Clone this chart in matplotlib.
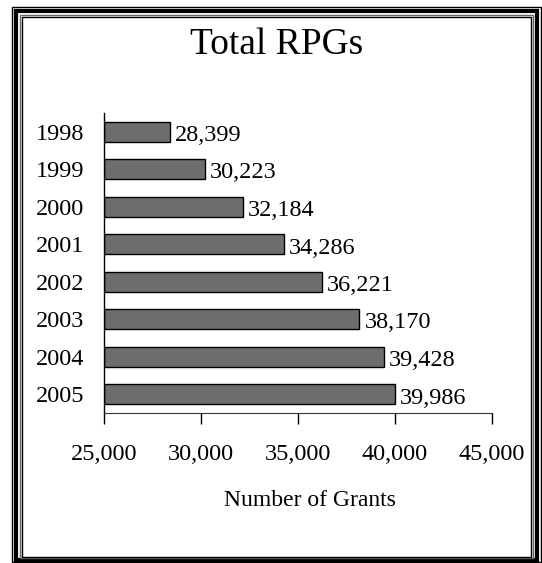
import matplotlib.pyplot as plt
from matplotlib.patches import Rectangle

years = ['1998', '1999', '2000', '2001', '2002', '2003', '2004', '2005']
grants = [28399, 30223, 32184, 34286, 36221, 38170, 39428, 39986]
x_ticks = [25000, 30000, 35000, 40000, 45000]

plt.rcParams['font.family'] = ['Liberation Serif', 'DejaVu Serif']

W, H = 542, 563
fig = plt.figure(figsize=(W / 100, H / 100), dpi=100)
ax = fig.add_axes([104 / W, 1 - 413 / H, 388 / W, 300 / H])

pos = list(range(len(years)))
ax.barh(pos, [g - 25000 for g in grants], left=25000, height=0.53,
        color='#6e6e6e', edgecolor='black', linewidth=1.0)
for p, g in zip(pos, grants):
    ax.text(g + 250, p + 0.1, f'{g:,}', va='center', ha='left', fontsize=17.5)

ax.set_xlim(25000, 45000)
ax.set_ylim(len(years) - 0.5, -0.5)
ax.set_yticks(pos)
ax.set_yticklabels(years, fontsize=17.5)
ax.tick_params(axis='y', length=0, pad=14)
ax.set_xticks(x_ticks)
ax.set_xticklabels([f'{t:,}' for t in x_ticks], fontsize=17.5)
ax.tick_params(axis='x', direction='out', length=8, width=1, pad=14)
for s in ['top', 'right']:
    ax.spines[s].set_visible(False)
ax.spines['left'].set_linewidth(1)
ax.spines['bottom'].set_color('#333333')

fig.text(277 / W, 1 - 45 / H, 'Total RPGs', ha='center', va='center', fontsize=27)
fig.text(310 / W, 1 - 501 / H, 'Number of Grants', ha='center', va='center', fontsize=17)

# double frame around the figure
def frame(x0, y0, x1, y1, lw, color):
    fig.patches.append(Rectangle((x0 / W, 1 - y1 / H), (x1 - x0) / W, (y1 - y0) / H,
                                 transform=fig.transFigure, fill=False,
                                 edgecolor=color, linewidth=lw))

frame(11.5, 6.5, 541, 562, 1.0, 'black')
frame(16, 11, 537, 560, 3.0, 'black')
frame(19.5, 14.5, 533, 558, 1.0, '#666666')
frame(21.5, 16.5, 531, 556.5, 1.0, 'black')

fig.savefig('out.png', dpi=100)
